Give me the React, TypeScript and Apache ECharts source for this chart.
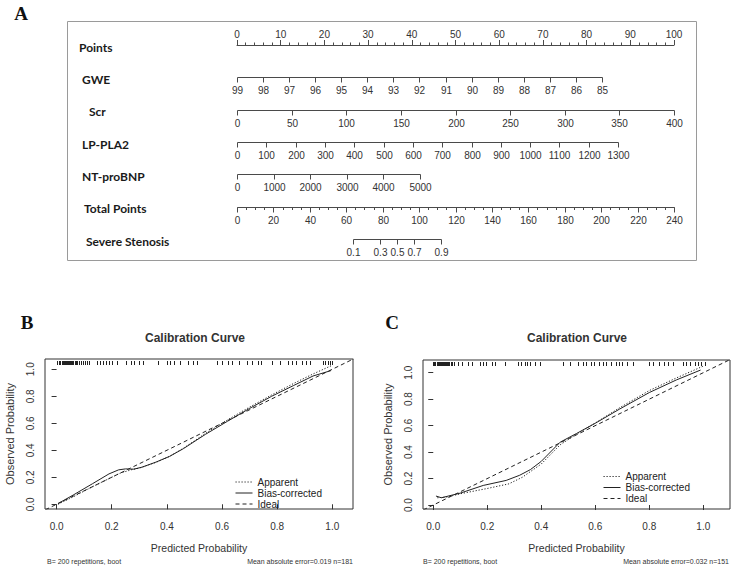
import { useEffect, useRef } from "react";
import * as echarts from "echarts";

// ---------- Nomogram (panel A) ----------
const rowNames = ["Points", "GWE", "Scr", "LP-PLA2", "NT-proBNP", "Total Points", "Severe Stenosis"];
const rowNameIndent = [0, 3, 10, 3, 3, 5, 7];

const gweTicks = [99, 98, 97, 96, 95, 94, 93, 92, 91, 90, 89, 88, 87, 86, 85];
const gwePointsRange = [0, 83.5];
const scrTicks = [0, 50, 100, 150, 200, 250, 300, 350, 400];
const scrPointsRange = [0, 100];
const lpTicks = [0, 100, 200, 300, 400, 500, 600, 700, 800, 900, 1000, 1100, 1200, 1300];
const lpPointsRange = [0, 87.2];
const bnpTicks = [0, 1000, 2000, 3000, 4000, 5000];
const bnpPointsRange = [0, 41.9];
const totalTicks = [0, 20, 40, 60, 80, 100, 120, 140, 160, 180, 200, 220, 240];
const totalMinorStep = 5;
const stenosisTicks = [0.1, 0.3, 0.5, 0.7, 0.9];
const stenosisTotalAtHalf = 87.9; // total points where risk = 0.5
const stenosisLogOddsPerPoint = 0.091;

// ---------- Calibration curves (panels B, C) ----------
const probTicks = [0, 0.2, 0.4, 0.6, 0.8, 1.0];

const bApparent = [
  [0.005, 0.0], [0.06, 0.055], [0.13, 0.13], [0.19, 0.19], [0.23, 0.23], [0.27, 0.255],
  [0.3, 0.268], [0.36, 0.31], [0.41, 0.355], [0.46, 0.415], [0.54, 0.525], [0.62, 0.625],
  [0.7, 0.72], [0.78, 0.81], [0.86, 0.895], [0.93, 0.965], [1.0, 1.03],
];
const bBiasCorrected = [
  [0.005, 0.005], [0.06, 0.068], [0.13, 0.152], [0.19, 0.225], [0.225, 0.255], [0.25, 0.262],
  [0.28, 0.26], [0.31, 0.275], [0.36, 0.312], [0.41, 0.355], [0.46, 0.412], [0.54, 0.518],
  [0.62, 0.615], [0.7, 0.71], [0.78, 0.8], [0.86, 0.88], [0.93, 0.95], [0.995, 0.99],
];
const cApparent = [
  [0.015, 0.055], [0.05, 0.06], [0.1, 0.085], [0.2, 0.125], [0.28, 0.16], [0.33, 0.21],
  [0.4, 0.31], [0.47, 0.455], [0.53, 0.535], [0.6, 0.62], [0.69, 0.735], [0.8, 0.865],
  [0.9, 0.96], [1.0, 1.05],
];
const cBiasCorrected = [
  [0.01, 0.068], [0.03, 0.055], [0.1, 0.09], [0.185, 0.148], [0.27, 0.186], [0.32, 0.225],
  [0.36, 0.268], [0.4, 0.33], [0.47, 0.475], [0.53, 0.54], [0.6, 0.618], [0.69, 0.725],
  [0.8, 0.85], [0.9, 0.945], [0.99, 1.02],
];
const idealLine = [[-0.2, -0.2], [1.3, 1.3]];

const bRug = [
  0.003, 0.007, 0.011, 0.014, 0.018, 0.021, 0.025, 0.028, 0.032, 0.035, 0.039, 0.042, 0.046,
  0.05, 0.053, 0.057, 0.061, 0.065, 0.069, 0.075, 0.082, 0.088, 0.095, 0.103, 0.11, 0.118,
  0.148, 0.158, 0.168, 0.178, 0.19, 0.2, 0.22, 0.25, 0.27, 0.28, 0.3, 0.315, 0.367, 0.4,
  0.41, 0.425, 0.446, 0.475, 0.495, 0.51, 0.58, 0.6, 0.62, 0.635, 0.66, 0.69, 0.71, 0.73,
  0.74, 0.78, 0.81, 0.84, 0.855, 0.87, 0.89, 0.906, 0.92, 0.965, 0.975, 0.985, 0.992, 1.0,
];
const cRug = [
  0.0, 0.004, 0.008, 0.012, 0.016, 0.02, 0.024, 0.028, 0.032, 0.036, 0.04, 0.044, 0.048,
  0.052, 0.056, 0.06, 0.064, 0.068, 0.078, 0.09, 0.108, 0.127, 0.143, 0.173, 0.185, 0.195,
  0.216, 0.228, 0.265, 0.314, 0.326, 0.338, 0.347, 0.358, 0.377, 0.395, 0.48, 0.506, 0.535,
  0.553, 0.565, 0.584, 0.596, 0.615, 0.627, 0.64, 0.658, 0.676, 0.688, 0.7, 0.717, 0.74,
  0.8, 0.812, 0.837, 0.855, 0.868, 0.887, 0.925, 0.937, 0.95, 0.968, 0.98, 0.993, 1.005,
];

const sans = '"Liberation Sans", Arial, sans-serif';
const ink = "#222";
const dottedDash = [1.2, 1.8];
const dashedDash = [4, 3];

type NomoRow = {
  ticks: number[];
  toPoints: (v: number) => number;
  label: (v: number) => string;
  minor?: number[];
};

const linear = (ticks: number[], range: number[]) => (v: number) => {
  const a = ticks[0];
  const b = ticks[ticks.length - 1];
  return range[0] + ((v - a) / (b - a)) * (range[1] - range[0]);
};
const totalMax = totalTicks[totalTicks.length - 1];
const totalToPoints = (tp: number) => (tp * 100) / totalMax;
const riskToTotal = (p: number) => stenosisTotalAtHalf + Math.log(p / (1 - p)) / stenosisLogOddsPerPoint;

const totalMinor: number[] = [];
for (let v = 0; v <= totalMax; v += totalMinorStep) totalMinor.push(v);

const nomoRows: NomoRow[] = [
  { ticks: gweTicks, toPoints: linear(gweTicks, gwePointsRange), label: String },
  { ticks: scrTicks, toPoints: linear(scrTicks, scrPointsRange), label: String },
  { ticks: lpTicks, toPoints: linear(lpTicks, lpPointsRange), label: String },
  { ticks: bnpTicks, toPoints: linear(bnpTicks, bnpPointsRange), label: String },
  { ticks: totalTicks, toPoints: totalToPoints, label: String, minor: totalMinor },
  { ticks: stenosisTicks, toPoints: (p) => totalToPoints(riskToTotal(p)), label: (v) => v.toFixed(1) },
];

const nomoStroke = "#4a4a4a";

const renderNomoRow = (params: any, api: any) => {
  const row = nomoRows[params.dataIndex];
  const rowIndex = api.value(1);
  const at = (v: number) => api.coord([row.toPoints(v), rowIndex]);
  const pts = row.ticks.map(at);
  const y = Math.round(pts[0][1]) + 0.5;
  const xs = pts.map((p: number[]) => Math.round(p[0]) + 0.5);
  const children: any[] = [
    {
      type: "line",
      shape: { x1: Math.min(...xs), y1: y, x2: Math.max(...xs), y2: y },
      style: { stroke: nomoStroke, lineWidth: 1 },
    },
  ];
  (row.minor || []).forEach((v) => {
    const x = Math.round(at(v)[0]) + 0.5;
    children.push({
      type: "line",
      shape: { x1: x, y1: y, x2: x, y2: y + 2.5 },
      style: { stroke: nomoStroke, lineWidth: 1 },
    });
  });
  xs.forEach((x: number, i: number) => {
    children.push({
      type: "line",
      shape: { x1: x, y1: y, x2: x, y2: y + 5 },
      style: { stroke: nomoStroke, lineWidth: 1 },
    });
    children.push({
      type: "text",
      x,
      y: y + 8,
      style: {
        text: row.label(row.ticks[i]),
        fill: "#333",
        font: `10px ${sans}`,
        align: "center",
        verticalAlign: "top",
      },
    });
  });
  return { type: "group", children };
};

const renderRug = (params: any, api: any) => {
  const x = Math.round(api.coord([api.value(0), 0])[0]) + 0.5;
  const top = params.coordSys.y;
  return {
    type: "line",
    shape: { x1: x, y1: top + 2, x2: x, y2: top + 6 },
    style: { stroke: ink, lineWidth: 1 },
  };
};

const calSeries = (name: string, data: number[][], dash: any, axis: number) => ({
  type: "line",
  name,
  xAxisIndex: axis,
  yAxisIndex: axis,
  data,
  symbol: "none",
  clip: true,
  silent: true,
  itemStyle: { color: ink },
  lineStyle: { color: ink, width: 1, type: dash },
});

const probXAxis = (gridIndex: number, min: number, max: number) => ({
  type: "value",
  gridIndex,
  min,
  max,
  axisLine: { show: false },
  axisTick: { show: true, length: 5, customValues: probTicks, lineStyle: { color: "#333" } },
  axisLabel: {
    customValues: probTicks,
    formatter: (v: number) => v.toFixed(1),
    fontSize: 10,
    color: "#333",
    margin: 12,
    fontFamily: sans,
  },
  splitLine: { show: false },
  name: "Predicted Probability",
  nameLocation: "middle",
  nameGap: 33,
  nameTextStyle: { fontSize: 10.5, color: "#333", fontFamily: sans },
});

const probYAxis = (gridIndex: number, min: number, max: number) => ({
  type: "value",
  gridIndex,
  min,
  max,
  axisLine: { show: false },
  axisTick: { show: true, length: 5, customValues: probTicks, lineStyle: { color: "#333" } },
  axisLabel: {
    customValues: probTicks,
    formatter: (v: number) => v.toFixed(1),
    fontSize: 10,
    color: "#333",
    margin: 10,
    rotate: 90,
    fontFamily: sans,
  },
  splitLine: { show: false },
  name: "Observed Probability",
  nameLocation: "middle",
  nameGap: 30,
  nameTextStyle: { fontSize: 11, color: "#333", fontFamily: sans },
});

const legendNames = ["Apparent", "Bias-corrected", "Ideal"];
const calLegend = (left: number, top: number) => ({
  data: legendNames,
  orient: "vertical",
  left,
  top,
  itemWidth: 17,
  itemHeight: 8,
  itemGap: 0,
  selectedMode: false,
  itemStyle: { opacity: 0 },
  lineStyle: { opacity: 1, width: 1 },
  textStyle: { fontSize: 10, lineHeight: 11, color: ink, fontFamily: sans },
});

const rowNameRich: Record<string, any> = {};
rowNameIndent.forEach((indent, i) => {
  rowNameRich["r" + i] = { padding: [4, 0, 0, indent] };
});

const panelLetter = (text: string, x: number, y: number) => ({
  type: "text",
  x,
  y,
  style: {
    text,
    font: 'bold 19px "Liberation Serif", "Times New Roman", serif',
    fill: "#111",
    align: "center",
    verticalAlign: "middle",
  },
});

const note = (text: string, x: number, y: number, align: string, font: string) => ({
  type: "text",
  x,
  y,
  style: { text, font, fill: "#333", align, verticalAlign: "middle" },
});

export default function App() {
  const ref = useRef<HTMLDivElement>(null);

  useEffect(() => {
    if (!ref.current) return;
    const chart = echarts.init(ref.current, undefined, { renderer: "svg" });
    chart.setOption({
      animation: false,
      backgroundColor: "#fff",
      grid: [
        { left: 237, width: 437, top: 45, height: 194 },
        { left: 45, width: 308, top: 359, height: 150, show: true, borderColor: "#333", borderWidth: 1 },
        { left: 423, width: 307, top: 360, height: 149, show: true, borderColor: "#333", borderWidth: 1 },
      ],
      xAxis: [
        {
          type: "value",
          gridIndex: 0,
          position: "top",
          min: 0,
          max: 100,
          interval: 10,
          axisLine: { show: true, lineStyle: { color: nomoStroke } },
          axisTick: { show: true, length: 5, lineStyle: { color: nomoStroke } },
          minorTick: { show: true, splitNumber: 5, length: 2.5, lineStyle: { color: nomoStroke } },
          axisLabel: { fontSize: 10, color: "#333", margin: 6, fontFamily: sans },
          splitLine: { show: false },
          minorSplitLine: { show: false },
        },
        probXAxis(1, -0.042, 1.075),
        probXAxis(2, -0.038, 1.099),
      ],
      yAxis: [
        {
          type: "category",
          gridIndex: 0,
          inverse: true,
          boundaryGap: false,
          data: rowNames,
          axisLine: { show: false },
          axisTick: { show: false },
          axisLabel: {
            align: "left",
            margin: 158,
            fontSize: 12,
            fontWeight: "bold",
            color: "#1a1a1a",
            fontFamily: 'Lato, "Open Sans", sans-serif',
            formatter: (v: string, i: number) => `{r${i}|${v}}`,
            rich: rowNameRich,
          },
          splitLine: { show: false },
        },
        probYAxis(1, -0.035, 1.076),
        probYAxis(2, -0.03, 1.096),
      ],
      legend: [calLegend(230, 471.5), calLegend(598, 466)],
      series: [
        {
          type: "custom",
          xAxisIndex: 0,
          yAxisIndex: 0,
          data: nomoRows.map((_, i) => [0, i + 1]),
          encode: { x: 0, y: 1 },
          renderItem: renderNomoRow,
          clip: false,
          silent: true,
        },
        calSeries("Apparent", bApparent, dottedDash, 1),
        calSeries("Bias-corrected", bBiasCorrected, "solid", 1),
        calSeries("Ideal", idealLine, dashedDash, 1),
        {
          type: "custom",
          xAxisIndex: 1,
          yAxisIndex: 1,
          data: bRug.map((v) => [v, 0]),
          encode: { x: 0, y: 1 },
          renderItem: renderRug,
          silent: true,
        },
        calSeries("Apparent", cApparent, dottedDash, 2),
        calSeries("Bias-corrected", cBiasCorrected, "solid", 2),
        calSeries("Ideal", idealLine, dashedDash, 2),
        {
          type: "custom",
          xAxisIndex: 2,
          yAxisIndex: 2,
          data: cRug.map((v) => [v, 0]),
          encode: { x: 0, y: 1 },
          renderItem: renderRug,
          silent: true,
        },
      ],
      graphic: [
        {
          type: "rect",
          shape: { x: 67.5, y: 21.5, width: 629, height: 239 },
          style: { fill: "none", stroke: "#9a9a9a", lineWidth: 1 },
          silent: true,
        },
        panelLetter("A", 21, 13),
        panelLetter("B", 27, 322),
        panelLetter("C", 392, 322),
        note("Calibration Curve", 195, 338, "center", `bold 12px ${sans}`),
        note("Calibration Curve", 577, 338, "center", `bold 12px ${sans}`),
        note("B= 200 repetitions, boot", 47, 561, "left", `7px ${sans}`),
        note("Mean absolute error=0.019 n=181", 353, 561, "right", `7px ${sans}`),
        note("B= 200 repetitions, boot", 423, 561, "left", `7px ${sans}`),
        note("Mean absolute error=0.032 n=151", 729, 561, "right", `7px ${sans}`),
      ],
    });
    return () => chart.dispose();
  }, []);

  return (
    <div
      ref={ref}
      style={{ position: "absolute", left: 0, top: 0, width: 739, height: 573, background: "#fff" }}
    />
  );
}
